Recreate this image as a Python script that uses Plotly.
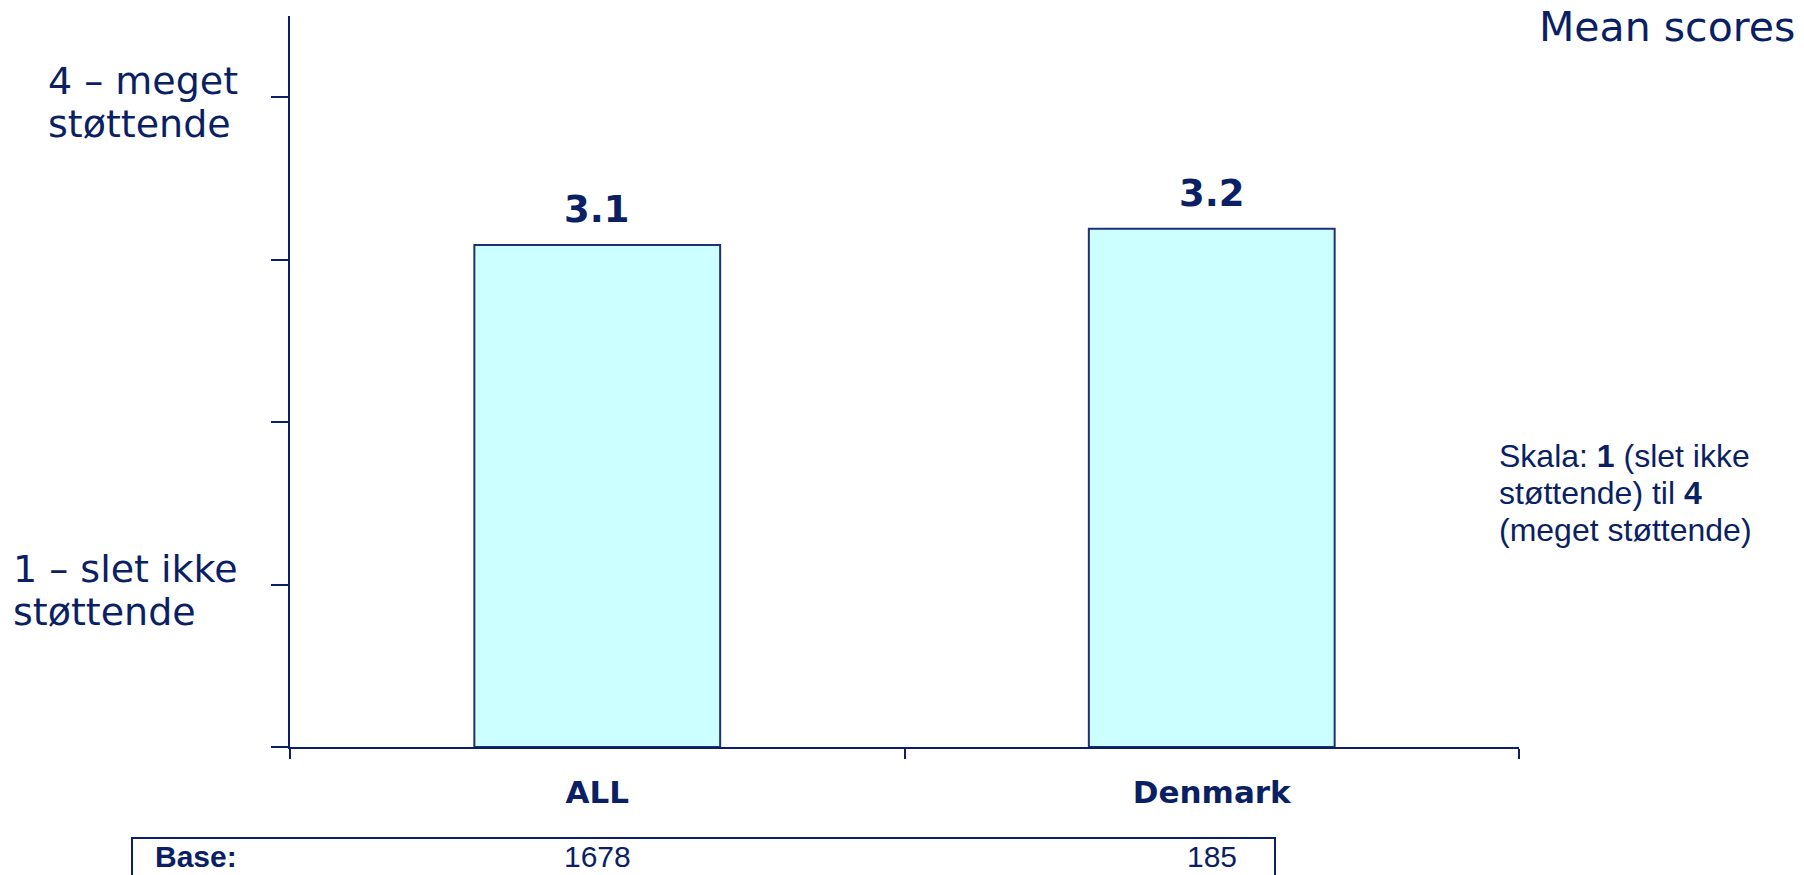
import plotly.graph_objects as go

# data
categories = ['ALL', 'Denmark']
mean_scores = [3.09, 3.19]
value_labels = ['3.1', '3.2']
bases = [1678, 185]
y_ticks = [0, 1, 2, 3, 4]
y_label_vals = [4, 1]
y_label_lines = [['4 – meget', 'støttende'], ['1 – slet ikke', 'støttende']]
scale_note = ['Skala: <b>1</b> (slet ikke', 'støttende) til <b>4</b>', '(meget støttende)']

NAVY = '#0b1f65'
W, H = 1804, 875
L, R, T, B = 290, 285, 16, 128
PW, PH = W - L - R, H - T - B

def px2x(px):
    return (px - L) / PW

def px2y(py):
    return (H - B - py) / PH

fig = go.Figure(go.Bar(
    x=categories, y=mean_scores, width=0.4,
    marker=dict(color='#ccffff', line=dict(color='#1f2f78', width=2)),
    hoverinfo='skip'))

ann = []
# value labels above bars
for c, v, t in zip(categories, mean_scores, value_labels):
    ann.append(dict(x=c, y=v, xref='x', yref='y', text=t, showarrow=False,
                    yanchor='bottom', yshift=12,
                    font=dict(family='DejaVu Sans', size=37, color=NAVY, weight='bold')))
# y-axis labels (left aligned blocks)
for v, lines, left in zip(y_label_vals, y_label_lines, [46, 11]):
    for ln, dy in zip(lines, [16, -27]):
        ann.append(dict(x=px2x(left), y=v, xref='paper', yref='y', text=ln, showarrow=False,
                        xanchor='left', yanchor='middle', yshift=dy,
                        font=dict(family='DejaVu Sans', size=38, color=NAVY)))
# corner text
ann.append(dict(x=px2x(1797), y=px2y(27), xref='paper', yref='paper', text='Mean scores',
                showarrow=False, xanchor='right', yanchor='middle',
                font=dict(family='DejaVu Sans', size=41, color=NAVY)))
# scale note
for i, t in enumerate(scale_note):
    ann.append(dict(x=px2x(1497), y=px2y(456 + 37 * i), xref='paper', yref='paper',
                    text=t, showarrow=False, xanchor='left', yanchor='middle',
                    font=dict(family='Liberation Sans', size=32, color=NAVY)))
# base row
ann.append(dict(x=px2x(153), y=px2y(857), xref='paper', yref='paper', text='<b>Base:</b>',
                showarrow=False, xanchor='left', yanchor='middle',
                font=dict(family='Liberation Sans', size=30, color=NAVY)))
for c, n in zip(categories, bases):
    ann.append(dict(x=c, y=px2y(857), xref='x', yref='paper', text=str(n),
                    showarrow=False, xanchor='center', yanchor='middle',
                    font=dict(family='Liberation Sans', size=30, color=NAVY)))

fig.update_layout(
    width=W, height=H,
    margin=dict(l=L, r=R, t=T, b=B),
    plot_bgcolor='white', paper_bgcolor='white',
    showlegend=False,
    annotations=ann,
    shapes=[dict(type='rect', xref='paper', yref='paper',
                 x0=px2x(132), x1=px2x(1275), y0=px2y(838), y1=px2y(900),
                 line=dict(color=NAVY, width=2), fillcolor='rgba(0,0,0,0)', layer='above')],
    xaxis=dict(showline=True, linecolor=NAVY, linewidth=2, ticks='outside', ticklen=10,
               tickwidth=2, tickcolor=NAVY, tickson='boundaries', showgrid=False,
               ticklabelstandoff=17, range=[-0.5, 1.5],
               tickfont=dict(family='DejaVu Sans', size=31, color=NAVY, weight='bold')),
    yaxis=dict(range=[0, 4.5], showline=True, linecolor=NAVY, linewidth=2,
               ticks='outside', ticklen=17, tickwidth=2, tickcolor=NAVY,
               tickvals=y_ticks, showticklabels=False, showgrid=False, zeroline=False),
)

# page body has a default margin; drop it so the figure fills the window
fig.write_html('out.html', config={'displayModeBar': False},
               post_script="document.body.style.margin='0';")
